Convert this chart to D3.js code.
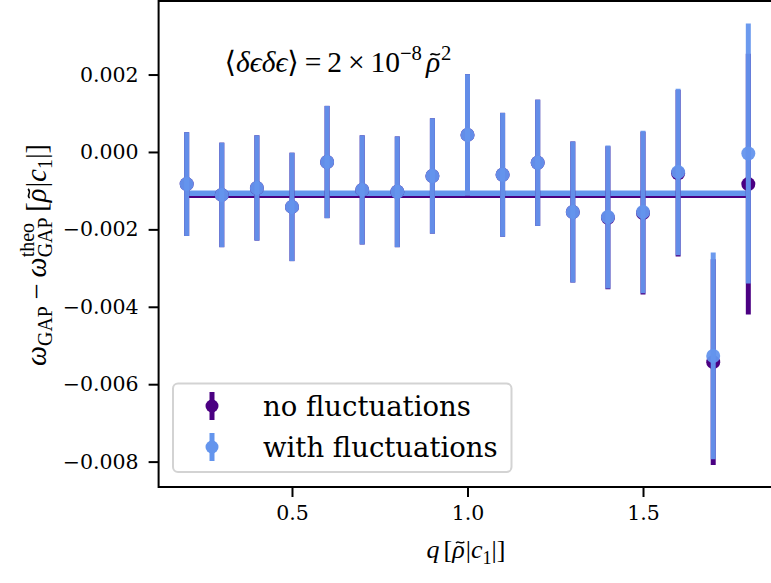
<!DOCTYPE html>
<html>
<head>
<meta charset="utf-8">
<script src="https://cdn.jsdelivr.net/npm/d3@7"></script>
<style>
  html, body { margin: 0; padding: 0; background: #fff; }
  svg { display: block; }
</style>
</head>
<body>
<svg id="chart" width="771" height="583"></svg>
<script>
// Wave-vector samples q (in units of rho~|c1|)
const qValues = [0.2, 0.3, 0.4, 0.5, 0.6, 0.7, 0.8, 0.9, 1.0, 1.1, 1.2, 1.3, 1.4, 1.5, 1.6, 1.7, 1.8];

// omega_GAP - omega_GAP^theo, without density fluctuations
const noFluctuations = [-0.00083, -0.00111, -0.00093, -0.00142, -0.00026, -0.00098, -0.00103, -0.00062,
                        0.00044, -0.00059, -0.00028, -0.00155, -0.00170, -0.00158, -0.00055, -0.00543, -0.00083];
const noFluctuationsErr = [0.00134, 0.00135, 0.00136, 0.00140, 0.00145, 0.00141, 0.00143, 0.00149,
                           0.00157, 0.00160, 0.00163, 0.00182, 0.00185, 0.00210, 0.00215, 0.00266, 0.00337];

// omega_GAP - omega_GAP^theo, with <de de> = 2e-8 rho~^2
const withFluctuations = [-0.00083, -0.00111, -0.00093, -0.00142, -0.00026, -0.00098, -0.00103, -0.00062,
                          0.00044, -0.00059, -0.00028, -0.00155, -0.00168, -0.00155, -0.00052, -0.00527, -0.00004];
const withFluctuationsErr = [0.00134, 0.00135, 0.00136, 0.00140, 0.00145, 0.00141, 0.00143, 0.00149,
                             0.00157, 0.00160, 0.00163, 0.00182, 0.00185, 0.00210, 0.00215, 0.00267, 0.00336];

// Average offsets over the q range
const meanNoFluctuations = -0.00116;
const meanWithFluctuations = -0.00107;

const yTicks = [-0.008, -0.006, -0.004, -0.002, 0.000, 0.002];
const xTicks = [0.5, 1.0, 1.5];
const seriesNames = ["no fluctuations", "with fluctuations"];

const INDIGO = "#4b0082";
const BLUE = "#6495ed";
const TEXT_FONT = "'DejaVu Serif', serif";
const MATH_FONT = "'Liberation Serif', 'DejaVu Serif', serif";

const svg = d3.select("#chart");

const x = d3.scaleLinear().domain([0.12, 1.88]).range([158.6, 776.4]);
const y = d3.scaleLinear().domain([-0.008656, 0.0039]).range([487, 1]);

// Axes with outward ticks
const fmtY = v => (v < 0 ? "\u2212" : "") + Math.abs(v).toFixed(3);
const yAxis = svg.append("g")
  .attr("transform", `translate(${x.range()[0]},0)`)
  .call(d3.axisLeft(y).tickValues(yTicks).tickFormat(fmtY).tickSize(10).tickPadding(10));
const xAxis = svg.append("g")
  .attr("transform", `translate(0,${y.range()[0]})`)
  .call(d3.axisBottom(x).tickValues(xTicks).tickFormat(d3.format(".1f")).tickSize(10).tickPadding(8));
[yAxis, xAxis].forEach(a => {
  a.select(".domain").remove();
  a.selectAll(".tick line").attr("stroke", "#000").attr("stroke-width", 2);
  a.selectAll(".tick text").attr("font-family", TEXT_FONT).attr("font-size", 20.5).attr("fill", "#000");
});

// Frame
svg.append("rect")
  .attr("x", x.range()[0]).attr("y", y.range()[1])
  .attr("width", x.range()[1] - x.range()[0]).attr("height", y.range()[0] - y.range()[1])
  .attr("fill", "none").attr("stroke", "#000").attr("stroke-width", 2);

// Mean offset lines
const plot = svg.append("g");
plot.append("line")
  .attr("x1", x(qValues[0])).attr("x2", x(qValues[qValues.length - 1]))
  .attr("y1", y(meanNoFluctuations)).attr("y2", y(meanNoFluctuations))
  .attr("stroke", INDIGO).attr("stroke-width", 2.2);
plot.append("line")
  .attr("x1", x(qValues[0])).attr("x2", x(qValues[qValues.length - 1]))
  .attr("y1", y(meanWithFluctuations)).attr("y2", y(meanWithFluctuations))
  .attr("stroke", BLUE).attr("stroke-width", 5.5);

// Error bar series
function errorSeries(values, errs, color, opacity) {
  const data = qValues.map((q, i) => ({ q, v: values[i], e: errs[i] }));
  const g = plot.append("g");
  g.selectAll("line").data(data).join("line")
    .attr("x1", d => x(d.q)).attr("x2", d => x(d.q))
    .attr("y1", d => y(d.v + d.e)).attr("y2", d => y(d.v - d.e))
    .attr("stroke", color).attr("stroke-width", 5).attr("stroke-opacity", opacity);
  g.selectAll("circle").data(data).join("circle")
    .attr("cx", d => x(d.q)).attr("cy", d => y(d.v)).attr("r", 7)
    .attr("fill", color).attr("fill-opacity", opacity);
}
errorSeries(noFluctuations, noFluctuationsErr, INDIGO, 1);
errorSeries(withFluctuations, withFluctuationsErr, BLUE, 0.95);

// Small math-text layout helper: pieces placed left to right, widths measured.
// A piece with tilde:true gets a drawn tilde accent over it.
function mathLabel(parent, pieces, size) {
  const g = parent.append("g").attr("font-family", MATH_FONT).attr("fill", "#000");
  let cx = 0;
  const put = (p, at) => g.append("text")
    .attr("x", at + (p.dx || 0) * size)
    .attr("y", (p.dy || 0) * size)
    .attr("font-size", size * (p.scale || 1))
    .attr("font-style", p.it ? "italic" : "normal")
    .text(p.t);
  pieces.forEach(p => {
    if (p.pre) cx += p.pre * size;
    if (p.stack) {
      let w = 0;
      p.stack.forEach(s => { w = Math.max(w, put(s, cx).node().getComputedTextLength()); });
      cx += w;
    } else {
      const w = put(p, cx).node().getComputedTextLength();
      if (p.tilde) {
        const tw = 0.32 * size, h = 0.07 * size;
        const x0 = cx + 0.5 * w - tw / 2 + 0.07 * size, y0 = -0.6 * size;
        g.append("path")
          .attr("d", `M${x0},${y0 + h * 0.4} C${x0 + tw * 0.25},${y0 - h * 1.6} ${x0 + tw * 0.55},${y0 + h * 1.6} ${x0 + tw},${y0 - h * 0.4}`)
          .attr("fill", "none").attr("stroke", "#000").attr("stroke-width", 0.055 * size);
      }
      cx += w;
    }
    if (p.post) cx += p.post * size;
  });
  return { g, width: cx };
}

const SUB = { scale: 0.7, dy: 0.22 };
const SUP = { scale: 0.7, dy: -0.42 };
const rho = (post) => ({ t: "\u03c1", it: true, tilde: true, post: post || 0.04 });

// Annotation
const note = mathLabel(svg, [
  { t: "\u27e8" }, { t: "\u03b4", it: true }, { t: "\u03f5", it: true }, { t: "\u03b4", it: true },
  { t: "\u03f5", it: true }, { t: "\u27e9", post: 0.2 },
  { t: "=", post: 0.2 }, { t: "2", post: 0.2 }, { t: "\u00d7", post: 0.2 }, { t: "10" },
  Object.assign({ t: "\u22128", post: 0.14 }, SUP), rho(0.03), Object.assign({ t: "2" }, SUP)
], 29.5);
note.g.attr("transform", `translate(${338 - note.width / 2},72)`);

// x-axis label
const xl = mathLabel(svg, [
  { t: "q", it: true, post: 0.15 }, { t: "[" }, rho(), { t: "|" }, { t: "c", it: true },
  Object.assign({ t: "1" }, SUB), { t: "|" }, { t: "]" }
], 26);
xl.g.attr("transform", `translate(${466 - xl.width / 2},558)`);

// y-axis label
const yl = mathLabel(svg, [
  { t: "\u03c9", it: true }, Object.assign({ t: "GAP", post: 0.22 }, SUB),
  { t: "\u2212", post: 0.22 }, { t: "\u03c9", it: true },
  { stack: [Object.assign({ t: "theo" }, SUP), Object.assign({ t: "GAP" }, SUB)], post: 0.2 },
  { t: "[" }, rho(), { t: "|" }, { t: "c", it: true },
  Object.assign({ t: "1" }, SUB), { t: "|" }, { t: "]" }
], 28.5);
yl.g.attr("transform", `translate(46,255) rotate(-90) translate(${-yl.width / 2},0)`);

// Legend
const legend = svg.append("g");
legend.append("rect")
  .attr("x", 173).attr("y", 383.5).attr("width", 338.5).attr("height", 88.5).attr("rx", 5)
  .attr("fill", "#fff").attr("fill-opacity", 0.8).attr("stroke", "#d3d3d3").attr("stroke-width", 2);
const legendRows = [
  { name: seriesNames[0], color: INDIGO, cy: 406 },
  { name: seriesNames[1], color: BLUE, cy: 447 }
];
legendRows.forEach(r => {
  legend.append("line").attr("x1", 212).attr("x2", 212).attr("y1", r.cy - 14).attr("y2", r.cy + 14)
    .attr("stroke", r.color).attr("stroke-width", 5);
  legend.append("circle").attr("cx", 212).attr("cy", r.cy).attr("r", 6.5).attr("fill", r.color);
  legend.append("text").attr("x", 263).attr("y", r.cy + 10)
    .attr("font-family", TEXT_FONT).attr("font-size", 27.5).attr("fill", "#000").text(r.name);
});
</script>
</body>
</html>
